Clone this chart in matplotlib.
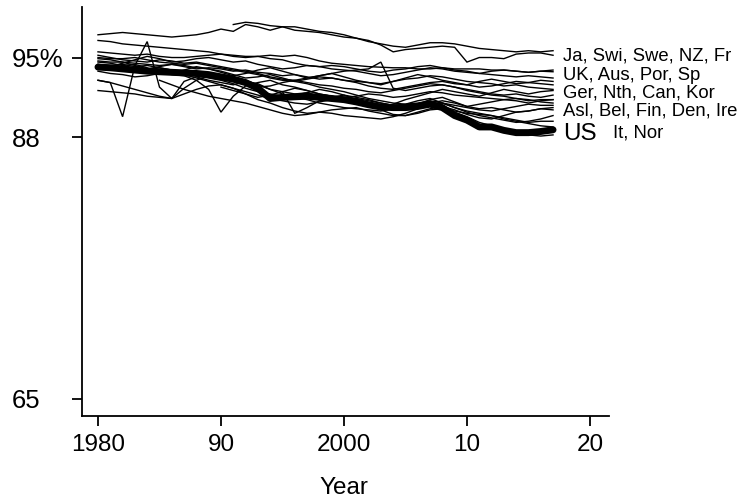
import numpy as np
import matplotlib
matplotlib.use("Agg")
import matplotlib.pyplot as plt

plt.rcParams['font.family'] = ['Liberation Sans', 'DejaVu Sans']

nan = np.nan
years = list(range(1980, 2018))

us = [94.16, 94.1, 94.0, 93.9, 93.8, 93.75, 93.7, 93.65, 93.6, 93.5,
      93.3, 93.1, 92.8, 92.3, 91.4, 91.5, 91.55, 91.6, 91.5, 91.4,
      91.3, 91.1, 90.85, 90.65, 90.6, 90.6, 90.7, 90.9, 90.6, 89.9,
      89.5, 88.9, 88.9, 88.6, 88.4, 88.4, 88.5, 88.65]

s_a = [97.0, 97.1, 97.2, 97.1, 97.0, 96.9, 96.8, 96.9, 97.0, 97.2,
       97.5, 97.3, 97.9, 97.7, 97.4, 97.7, 97.7, 97.5, 97.3, 97.2,
       97.0, 96.7, 96.4, 96.2, 96.0, 95.9, 96.1, 96.3, 96.3, 96.2,
       96.0, 95.8, 95.7, 95.6, 95.5, 95.6, 95.5, 95.6]
s_b = [nan] * 11 + [97.9, 98.1, 98.0, 97.8, 97.7, 97.4, 97.3, 97.2, 97.0,
       96.8, 96.7, 96.5, 96.1, 95.5, 95.7, 95.8, 95.9, 96.0, 95.9,
       94.6, 95.0, 95.0, 94.9, 95.3, 95.4, 95.4, 95.2]
s_c = [96.5, 96.4, 96.2, 96.1, 96.0, 95.9, 95.8, 95.7, 95.6, 95.5,
       95.3, 95.2, 95.1, 95.1, 95.2, 95.1, 95.2, 95.0, 94.7, 94.5,
       94.4, 94.3, 94.2, 94.15, 94.1, 94.1, 94.0, 94.0, 94.1, 94.0,
       94.0, 94.0, 93.9, 93.9, 93.8, 93.7, 93.8, 93.9]
s_d = [95.5, 95.4, 95.3, 95.2, 95.3, 95.1, 95.0, 95.0, 95.1, 95.2,
       95.3, 95.1, 95.0, 95.1, 94.9, 94.8, 94.5, 94.3, 94.2, 94.3,
       94.2, 94.0, 93.8, 93.7, 93.9, 94.0, 94.2, 94.3, 94.1, 93.9,
       93.8, 93.6, 93.5, 93.4, 93.3, 93.4, 93.3, 93.2]
s_e = [95.2, 95.0, 94.8, 94.7, 94.6, 94.8, 94.7, 94.5, 94.6, 94.4,
       94.2, 94.0, 93.8, 93.6, 93.3, 93.1, 93.0, 92.8, 92.6, 92.5,
       92.3, 92.2, 92.0, 91.9, 92.1, 92.3, 92.5, 92.7, 92.6, 92.4,
       92.2, 92.0, 91.8, 91.7, 91.8, 91.6, 91.5, 91.7]
s_f = [94.9, 94.8, 94.6, 94.3, 94.0, 94.2, 94.4, 94.3, 94.1, 94.0,
       93.8, 93.5, 93.2, 93.3, 93.5, 93.2, 92.9, 92.7, 92.4, 92.2,
       92.0, 91.7, 91.4, 91.2, 91.0, 90.9, 91.0, 91.2, 91.0, 90.6,
       90.3, 90.1, 89.9, 89.6, 89.4, 89.2, 89.0, 88.9]
s_g = [93.0, 92.8, 89.8, 94.3, 96.4, 92.4, 91.4, 92.9, 93.3, 93.0,
       92.8, 92.6, 92.9, 92.7, 92.2, 92.0, 91.8, 91.9, 92.2, 92.0,
       91.7, 91.5, 91.3, 91.0, 90.8, 90.9, 91.2, 91.4, 91.0, 90.6,
       90.2, 89.9, 89.7, 89.5, 89.3, 89.4, 89.6, 89.9]
s_h = [94.6, 94.5, 94.3, 94.4, 94.1, 93.7, 93.5, 93.4, 93.0, 92.2,
       90.2, 91.6, 92.5, 92.8, 93.0, 92.6, 92.4, 92.1, 91.8, 91.6,
       91.4, 91.2, 91.0, 90.7, 90.4, 90.6, 90.9, 91.1, 90.8, 90.2,
       89.8, 89.3, 89.0, 88.7, 88.4, 88.2, 88.1, 88.2]
s_i = [94.4, 94.3, 94.4, 94.2, 94.3, 94.1, 93.9, 93.8, 93.6, 93.4,
       93.2, 93.0, 92.7, 92.4, 92.5, 92.8, 93.0, 93.2, 93.4, 93.6,
       93.8, 93.9, 94.0, 94.6, 92.3, 92.1, 92.3, 92.5, 92.6, 92.4,
       92.1, 91.9, 91.7, 91.6, 91.4, 91.3, 91.1, 91.0]
s_j = [92.1, 92.0, 91.9, 91.8, 91.6, 91.5, 91.4, 91.8, 92.2, 92.5,
       92.6, 92.3, 91.8, 91.3, 91.0, 90.6, 90.3, 90.1, 90.2, 90.4,
       90.5, 90.6, 90.3, 90.1, 89.9, 89.9, 90.1, 90.4, 90.5, 90.3,
       90.1, 90.0, 89.9, 89.7, 89.5, 89.3, 89.4, 89.4]
s_k = [93.0, 92.8, 92.5, 92.2, 91.9, 91.6, 91.4, 92.3, 93.0, 93.4,
       93.5, 93.3, 93.0, 92.6, 92.2, 91.8, 91.5, 91.3, 91.0, 90.8,
       90.6, 90.5, 90.4, 90.3, 90.5, 90.7, 90.9, 91.3, 91.5, 91.1,
       90.7, 90.5, 90.6, 90.4, 90.2, 90.3, 90.5, 90.6]
s_l = [94.7, 94.6, 94.6, 94.5, 94.4, 94.3, 94.4, 94.2, 94.0, 94.1,
       94.0, 93.8, 93.9, 93.7, 93.6, 93.4, 93.5, 93.3, 93.1, 93.2,
       93.0, 92.9, 92.8, 92.6, 92.9, 93.1, 93.2, 93.4, 93.3, 93.1,
       92.9, 92.8, 92.7, 92.5, 92.6, 92.4, 92.3, 92.2]
s_m = [94.4, 94.2, 94.0, 93.8, 93.9, 94.1, 93.9, 93.6, 93.4, 93.2,
       93.0, 92.7, 92.3, 92.0, 91.8, 91.6, 91.7, 91.9, 91.6, 91.3,
       91.5, 91.6, 91.8, 91.7, 91.5, 91.6, 91.8, 92.0, 91.9, 91.7,
       91.6, 91.5, 91.4, 91.3, 91.4, 91.2, 91.3, 91.3]
s_n = [94.0, 94.2, 94.5, 94.8, 95.1, 94.9, 94.6, 94.7, 94.9, 95.0,
       94.8, 94.6, 94.7, 94.4, 94.2, 94.0, 94.1, 94.3, 94.2, 94.0,
       93.9, 93.8, 93.6, 93.4, 93.5, 93.7, 93.9, 94.1, 94.0, 93.8,
       93.7, 93.6, 93.8, 93.9, 93.8, 93.7, 93.8, 93.75]
s_o = [nan] * 5 + [93.8, 93.6, 93.9, 94.2, 94.0,
       93.7, 93.4, 93.6, 93.9, 94.1, 93.8, 93.5, 93.2, 93.4, 93.6,
       93.3, 93.0, 92.8, 92.7, 92.9, 93.2, 93.5, 93.3, 93.0, 92.8,
       92.6, 92.9, 93.1, 92.9, 92.7, 92.8, 93.0, 92.9]
s_p = [95.0, 94.9, 94.9, 95.0, 94.8, 94.6, 94.5, 94.4, 94.5, 94.3,
       94.1, 93.9, 93.7, 93.5, 93.2, 93.0, 92.9, 93.1, 93.3, 93.2,
       93.0, 92.8, 92.5, 92.3, 92.2, 92.4, 92.6, 92.8, 92.9, 92.7,
       92.6, 92.4, 92.5, 92.7, 92.9, 92.8, 92.7, 92.6]
s_q = [nan] * 10 + [92.4, 92.1, 91.8, 91.5, 91.7, 92.0, 92.3, 92.1, 91.8, 91.6,
       91.3, 91.0, 90.8, 90.6, 90.9, 91.3, 91.6, 91.9, 92.2, 92.0,
       91.8, 91.6, 91.9, 92.2, 92.0, 91.8, 92.0, 92.1]
s_r = [93.8, 93.6, 93.5, 93.3, 93.4, 93.6, 93.7, 93.5, 93.2, 92.9,
       92.6, 92.3, 92.0, 91.7, 91.4, 91.2, 91.0, 90.9, 91.1, 91.3,
       91.5, 91.4, 91.2, 91.0, 90.8, 90.6, 90.8, 91.0, 91.2, 91.0,
       90.7, 90.9, 91.1, 91.3, 91.2, 91.0, 91.2, 91.3]
s_s = [nan] * 5 + [93.0, 92.6, 92.2, 91.9, 91.6,
       91.4, 91.2, 91.0, 90.7, 90.4, 90.1, 89.9, 90.0, 90.2, 90.1,
       89.9, 89.8, 89.7, 89.6, 89.8, 90.1, 90.5, 90.9, 91.0, 90.8,
       90.6, 90.4, 90.3, 90.5, 90.7, 90.9, 90.8, 90.8]
s_t = [nan] * 15 + [92.0, 90.1, 90.6, 91.2, 91.5,
       91.7, 91.3, 90.9, 90.4, 90.0, 89.9, 90.2, 90.5, 90.7, 90.4,
       90.0, 89.7, 89.6, 89.9, 90.2, 90.3, 90.5, 90.4]

others = [s_a, s_b, s_c, s_d, s_e, s_f, s_g, s_h, s_i, s_j,
          s_k, s_l, s_m, s_n, s_o, s_p, s_q, s_r, s_s, s_t]

y_ticks = [65, 88, 95]
y_tick_labels = ["65", "88", "95%"]
x_ticks = [1980, 1990, 2000, 2010, 2020]
x_tick_labels = ["1980", "90", "2000", "10", "20"]

group_labels = ["Ja, Swi, Swe, NZ, Fr", "UK, Aus, Por, Sp",
                "Ger, Nth, Can, Kor", "Asl, Bel, Fin, Den, Ire"]
us_label = "US"
last_label = "It, Nor"

# ---------------- figure ----------------
W, H = 742, 501
fig = plt.figure(figsize=(W / 100, H / 100), dpi=100)
ax = fig.add_axes([82 / W, 1 - 416 / H, (609 - 82) / W, (416 - 7) / H])
ax.set_xlim(1978.7, 2021.55)
ax.set_ylim(63.5, 99.44)

for s in others:
    ax.plot(years, s, color='black', lw=1.0, solid_joinstyle='miter', zorder=2)
ax.plot(years, us, color='black', lw=5.0, solid_capstyle='round',
        solid_joinstyle='round', zorder=3)

for sp in ['top', 'right']:
    ax.spines[sp].set_visible(False)
for sp in ['left', 'bottom']:
    ax.spines[sp].set_linewidth(1.3)

ax.set_yticks(y_ticks)
ax.set_yticklabels(y_tick_labels, fontsize=18.5)
ax.set_xticks(x_ticks)
ax.set_xticklabels(x_tick_labels, fontsize=17.5)
ax.tick_params(axis='both', direction='out', length=7.2, width=1.3)
ax.tick_params(axis='y', pad=(82 - 12) * 0.72 - 7.2)
ax.tick_params(axis='x', pad=6)
for lab in ax.get_yticklabels():
    lab.set_horizontalalignment('left')

ax.set_xlabel("Year", fontsize=17.5)
ax.xaxis.set_label_coords((344 - 82) / 527, (416 - 477) / 409)

label_x = 2017.8
label_baselines = [94.76, 93.02, 91.52, 89.94]
for txt, yb in zip(group_labels, label_baselines):
    ax.text(label_x, yb, txt, fontsize=13.3, va='baseline', ha='left',
            clip_on=False)
ax.text(label_x, 87.77, us_label, fontsize=17.5, va='baseline', ha='left',
        clip_on=False)
ax.text(2021.9, 87.98, last_label, fontsize=13.3, va='baseline', ha='left',
        clip_on=False)

fig.savefig("out.png", dpi=100)
